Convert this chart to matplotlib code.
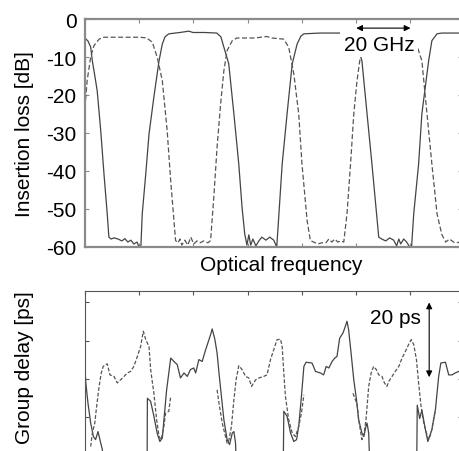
import numpy as np
import matplotlib
matplotlib.use("Agg")
import matplotlib.pyplot as plt

plt.rcParams['font.family'] = ['Liberation Sans', 'DejaVu Sans']
plt.rcParams['axes.unicode_minus'] = False

# insertion loss, (frequency GHz, dB)
solid_loss = [
    (0, -5.0), (1.1, -5.8), (2.1, -7.4), (2.7, -11.0), (3.7, -15.3), (4.5, -18.9),
    (5.8, -29.4), (7.0, -40.8), (8.2, -51.3), (8.8, -57.4), (9.6, -57.9), (10.7, -57.6),
    (12.2, -57.9), (13.6, -58.4), (14.7, -57.8), (15.8, -58.7), (16.9, -58.2), (18.0, -59.2),
    (19.2, -58.7), (19.9, -60), (20.6, -60), (21.1, -51.3), (22.4, -40.8), (23.6, -30.3),
    (25.4, -20.5), (27.3, -11.0), (28.5, -6.6), (29.5, -4.7), (30.9, -3.9), (35.0, -3.55),
    (38.3, -3.2), (39.8, -3.55), (44.2, -3.55), (48.6, -3.7), (50.1, -4.7), (51.2, -7.4),
    (53.0, -11.8), (54.9, -25.0), (56.7, -38.2), (57.9, -49.5), (58.9, -56.6), (59.7, -59.5),
    (60.4, -56.8), (61.1, -59.5), (61.9, -57.9), (63.0, -59.7), (64.1, -58.4), (65.2, -57.4),
    (66.7, -58.2), (68.1, -57.4), (69.6, -58.2), (70.7, -60), (71.5, -51.3), (72.7, -38.2),
    (74.5, -25.0), (76.4, -11.8), (78.2, -6.6), (79.6, -4.5), (80.7, -3.9), (86.6, -3.7),
    (94.3, -3.7), (97.6, -4.2), (99.4, -6.1), (100.6, -7.4), (102.1, -11.0), (104.0, -25.0),
    (105.8, -38.2), (107.4, -50.5), (108.3, -57.4), (109.4, -57.9), (110.9, -58.4),
    (112.3, -57.6), (113.8, -58.2), (114.9, -59.7), (115.7, -57.9), (116.4, -59.2),
    (117.5, -57.9), (118.6, -58.7), (119.7, -60), (120.4, -60), (121.2, -51.3), (123.0, -38.2),
    (124.2, -25.0), (126.7, -11.0), (127.9, -5.7), (129.8, -3.9), (131.5, -3.7), (139, -3.7),
]
dashed_loss = [
    (0, -23.2), (0.8, -16.2), (2.1, -10.0), (3.3, -7.0), (5.2, -5.3), (7.0, -4.8),
    (12.9, -4.8), (20.3, -4.8), (22.8, -5.0), (24.8, -6.1), (26.6, -10.0), (28.5, -16.2),
    (30.3, -29.4), (31.6, -42.6), (32.8, -53.1), (33.4, -58.3), (34.3, -58.9), (35.0, -57.9),
    (35.7, -59.5), (36.8, -58.2), (37.9, -59.5), (39.0, -57.4), (40.1, -59.2), (41.3, -58.4),
    (42.4, -58.9), (43.8, -58.4), (45.3, -58.9), (46.3, -58.3), (47.5, -46.8), (48.7, -33.7),
    (50.0, -22.4), (51.2, -13.6), (52.4, -8.3), (54.3, -5.7), (56.0, -5.0), (62.6, -5.0),
    (67.0, -4.6), (68.9, -5.0), (73.3, -5.3), (75.1, -7.4), (77.0, -14.5), (78.8, -25.0),
    (80.0, -38.2), (81.9, -53.1), (83.1, -58.3), (84.3, -58.7), (85.8, -59.2), (87.3, -58.9),
    (88.8, -58.9), (89.9, -57.9), (91.0, -58.7), (92.1, -57.9), (93.2, -58.7), (94.3, -58.4),
    (95.4, -58.7), (96.6, -51.3), (97.9, -38.2), (99.1, -25.0), (100.3, -16.2), (101.3, -11.0),
    (102.8, -6.6), (104.6, -5.0), (112.3, -5.0), (117.9, -5.0), (120.6, -5.7), (122.3, -6.8),
    (124.2, -11.0), (126.1, -25.0), (127.9, -38.2), (129.8, -51.3), (131.6, -56.8),
    (133.0, -58.7), (134.4, -57.9), (136.3, -58.9), (139, -58.7),
]

# group delay, (frequency GHz, ps); nan = gap, values below 0 run off the axis
nan = np.nan
solid_delay = [
    (0, 22.5), (0.3, 19.0), (1.1, 13.7), (2.1, 8.5), (3.1, 5.0), (3.9, 4.2), (4.8, 6.3),
    (5.8, 3.3), (6.4, 1.6), (6.8, -3), (nan, nan),
    (22.9, -3), (23.0, 15.0), (24.2, 14.2), (25.4, 10.3), (26.6, 5.9), (27.6, 3.7), (28.5, 4.6),
    (29.1, 9.4), (30.1, 17.2), (30.9, 21.6), (31.6, 25.5), (32.8, 24.6), (34.0, 23.8),
    (35.2, 20.3), (36.5, 21.6), (37.7, 20.7), (38.9, 22.5), (40.1, 22.9), (40.8, 21.6),
    (42.0, 25.1), (43.2, 24.6), (44.5, 27.7), (46.3, 31.6), (46.9, 33.1), (47.9, 30.3),
    (48.7, 26.8), (49.4, 21.6), (50.3, 15.5), (51.2, 9.4), (52.4, 4.2), (53.3, 2.9),
    (54.3, 5.9), (54.9, 6.3), (55.5, 3.3), (55.8, -3), (nan, nan),
    (73.1, -3), (73.3, 11.6), (74.5, 10.3), (75.8, 5.9), (77.0, 3.7), (78.0, 4.2), (78.8, 7.7),
    (79.8, 15.5), (80.7, 23.3), (81.5, 24.4), (83.7, 24.2), (85.0, 22.0), (86.8, 21.6),
    (88.0, 21.1), (88.9, 23.3), (89.9, 22.9), (91.1, 24.6), (92.1, 25.5), (92.9, 25.9),
    (93.9, 30.7), (95.1, 32.0), (96.0, 33.8), (96.6, 35.1), (97.2, 32.9), (98.1, 26.8),
    (99.1, 19.8), (100.1, 14.6), (100.9, 9.4), (102.1, 5.9), (102.8, 5.0), (103.6, 7.7),
    (104.0, 8.5), (104.6, 5.9), (105.0, -3), (nan, nan),
    (122.3, -3), (122.5, 13.2), (123.4, 9.7), (124.2, 11.9), (125.2, 8.0), (126.4, 3.7),
    (127.9, 6.8), (129.2, 12.0), (130.4, 20.7), (131.2, 24.2), (132.9, 24.4), (134.1, 21.1),
    (135.3, 21.1), (136.5, 21.6), (137.8, 22.0), (139, 21.5),
]
dashed_delay = [
    (2.1, 2.4), (2.7, 5.9), (3.6, 8.5), (4.3, 12.9), (5.2, 18.1), (6.0, 21.6), (6.7, 23.3),
    (8.2, 24.0), (9.2, 21.1), (10.7, 20.7), (11.9, 19.0), (13.1, 19.8), (14.4, 20.7),
    (15.6, 21.6), (16.8, 22.0), (18.0, 23.3), (19.3, 25.9), (20.5, 28.5), (21.5, 32.5),
    (22.4, 30.3), (23.6, 28.5), (24.2, 22.5), (25.4, 16.3), (26.4, 9.4), (27.3, 5.0),
    (28.1, 4.2), (29.1, 7.7), (29.7, 11.1), (30.9, 11.6), (31.6, 15.5), (nan, nan),
    (48.7, 17.2), (49.4, 13.7), (50.6, 8.5), (51.8, 5.0), (52.4, 3.3), (53.1, 4.2), (54.0, 7.7),
    (54.9, 14.6), (55.7, 19.8), (56.7, 23.5), (57.9, 22.5), (59.2, 20.7), (60.4, 20.3),
    (61.4, 18.1), (62.9, 19.8), (64.1, 20.3), (65.9, 20.7), (67.1, 21.1), (68.4, 25.1),
    (69.6, 27.7), (70.8, 30.3), (72.1, 30.4), (72.7, 28.5), (73.3, 21.6), (73.9, 15.5),
    (75.1, 9.4), (76.4, 5.9), (77.6, 5.0), (78.8, 7.7), (79.8, 11.1), (80.7, 15.9), (nan, nan),
    (98.8, 16.3), (100.3, 13.5), (100.9, 9.4), (101.5, 6.8), (102.1, 4.2), (102.8, 5.4),
    (103.6, 9.4), (104.6, 18.1), (105.5, 21.6), (106.4, 23.3), (107.4, 22.5), (108.3, 21.1),
    (109.5, 20.7), (110.4, 19.0), (111.3, 18.1), (112.0, 19.4), (113.2, 20.7), (114.4, 22.0),
    (115.7, 23.3), (116.9, 25.5), (118.1, 27.2), (119.3, 29.0), (120.3, 30.3), (121.2, 29.0),
    (122.2, 25.1), (123.0, 19.0), (123.9, 12.9), (124.9, 8.5), (125.9, 5.9), (126.7, 4.2),
    (127.6, 5.9), (128.5, 9.4), (129.2, 12.0),
]

loss_ticks = [-60, -50, -40, -30, -20, -10, 0]
delay_ticks = [10, 20, 30, 40]
freq_ticks = [0, 20, 40, 60, 80, 100, 120]

W, H = 460, 452
fig = plt.figure(figsize=(W / 100, H / 100), dpi=100)

def px_axes(left, top, right, bottom):
    return fig.add_axes([left / W, 1 - bottom / H, (right - left) / W, (bottom - top) / H])

ax1 = px_axes(85, 20, 462, 248)
ax2 = px_axes(85, 292, 462, 456.7)

def style(ax, col, lw):
    for s in ax.spines.values():
        s.set_color(col)
        s.set_linewidth(lw)
    ax.tick_params(direction='in', length=2.8, width=0.8, color=col,
                   top=True, right=True, labelsize=15, pad=6)
    ax.set_xticks(freq_ticks)
    ax.set_xticklabels([])
    ax.set_xlim(0, 139)

# top: insertion loss
x, y = zip(*solid_loss)
ax1.plot(x, y, color='#444444', lw=0.9)
x, y = zip(*dashed_loss)
ax1.plot(x, y, color='#555555', lw=0.9, dashes=(4, 2))
style(ax1, '#8a8a8a', 1.6)
ax1.set_ylim(-60, 0)
ax1.set_yticks(loss_ticks)
ax1.set_yticklabels([str(t) for t in loss_ticks])
ax1.set_ylabel('Insertion loss [dB]', fontsize=15)
ax1.yaxis.set_label_coords(-0.135, 0.5)
ax1.set_xlabel('Optical frequency', fontsize=15)
ax1.xaxis.set_label_coords(0.52, -0.035)

ax1.annotate('', xy=(100, -2.4), xytext=(120, -2.4),
             arrowprops=dict(arrowstyle='<|-|>', color='black', lw=0.8,
                             mutation_scale=9, shrinkA=0, shrinkB=0))
ax1.text(108.5, -6.6, '20 GHz', fontsize=15, ha='center', va='center',
         bbox=dict(facecolor='white', edgecolor='none', pad=2.5))

# bottom: group delay
x, y = zip(*solid_delay)
ax2.plot(x, y, color='#444444', lw=0.9)
x, y = zip(*dashed_delay)
ax2.plot(x, y, color='#555555', lw=0.9, dashes=(3, 1.5))
style(ax2, '#555555', 0.8)
ax2.set_ylim(0, 43)
ax2.set_yticks(delay_ticks)
ax2.set_yticklabels([])
ax2.set_ylabel('Group delay [ps]', fontsize=15)
ax2.yaxis.set_label_coords(-0.135, 0.54)

ax2.annotate('', xy=(126.9, 40), xytext=(126.9, 20.5),
             arrowprops=dict(arrowstyle='<|-|>', color='black', lw=0.8,
                             mutation_scale=9, shrinkA=0, shrinkB=0))
ax2.text(114.3, 36.2, '20 ps', fontsize=15, ha='center', va='center')

fig.savefig('out.png', dpi=100)
